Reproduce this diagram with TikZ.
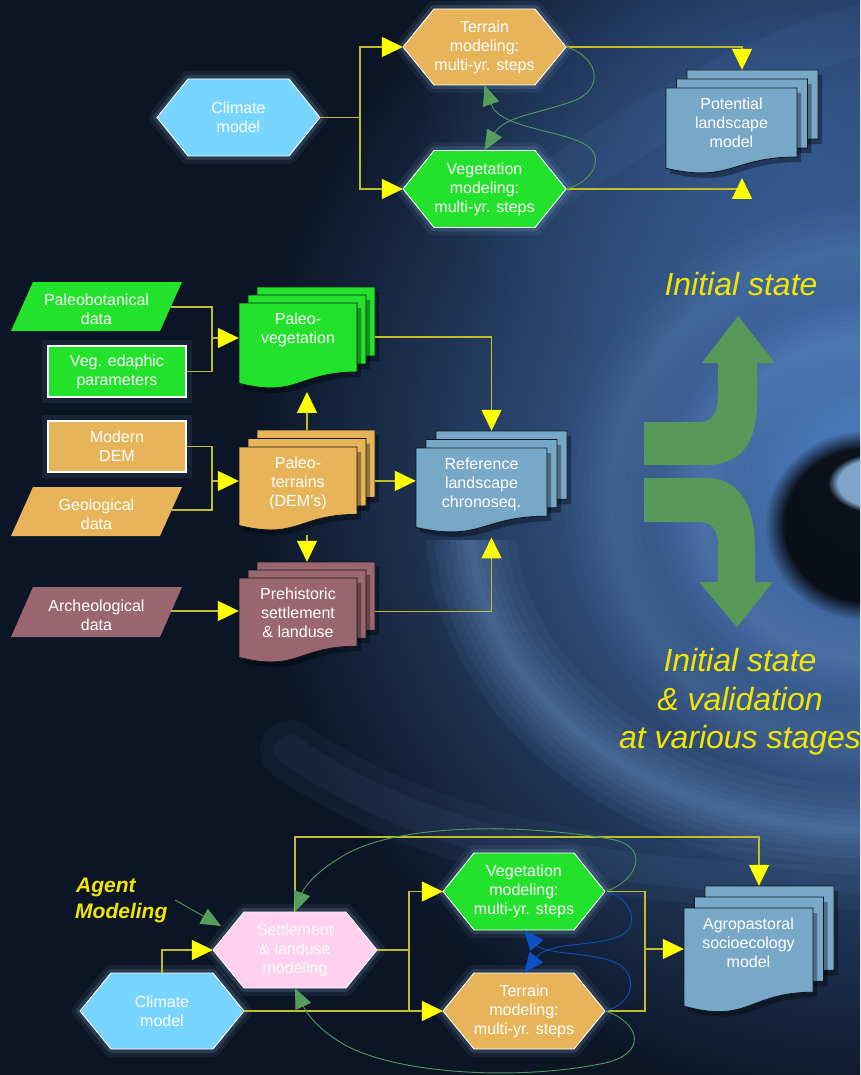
\documentclass[tikz,border=0pt]{standalone}
\usepackage{fontspec}
\setmainfont{Liberation Sans}
\usetikzlibrary{arrows.meta,fit,calc,fadings}
\tikzfading[name=softfade, inner color=transparent!0, outer color=transparent!100]

\definecolor{bgc}{HTML}{0B1526}
\definecolor{sw1}{HTML}{4F80C4}
\definecolor{sw2}{HTML}{7AA8E0}
\definecolor{sw3}{HTML}{9CCBF5}
\definecolor{swtop}{HTML}{3A62A0}
\definecolor{climB}{HTML}{77D5FF}
\definecolor{orng}{HTML}{E8B45A}
\definecolor{grn}{HTML}{22E22C}
\definecolor{pinkc}{HTML}{FFD0F0}
\definecolor{mauve}{HTML}{9A6670}
\definecolor{steel}{HTML}{78A8C8}
\definecolor{yel}{HTML}{FFFF00}
\definecolor{ylc}{HTML}{C2BC28}
\definecolor{gcc}{HTML}{4E9A5A}
\definecolor{gac}{HTML}{559E5E}
\definecolor{bcc}{HTML}{0A50B8}
\definecolor{bac}{HTML}{0C52C4}
\definecolor{bigG}{HTML}{589858}
\definecolor{ytext}{HTML}{F2E600}
\definecolor{glowc}{HTML}{A8D0F5}
\definecolor{docedge}{HTML}{101820}

\tikzset{
  yline/.style={draw=ylc, line width=1.3pt},
  yarr/.style={yline, -{Triangle[length=21pt,width=20pt,color=yel]}},
  gcurve/.style={draw=gcc, line width=0.9pt, -{Triangle[length=20pt,width=17pt,color=gac]}},
  bcurve/.style={draw=bcc, line width=0.9pt, -{Triangle[length=20pt,width=17pt,color=bac]}},
  hexshape/.style={draw=white, line width=0.9pt,
    preaction={draw=glowc, line width=16pt, opacity=0.07, line join=round},
    preaction={draw=glowc, line width=8pt, opacity=0.14, line join=round}},
  rectshape/.style={draw=white, line width=1.2pt,
    preaction={draw=glowc, line width=12pt, opacity=0.08}},
  docshape/.style={draw=docedge, line width=0.8pt,
    preaction={fill=black, fill opacity=0.35, draw=none, transform canvas={shift={(4pt,-5pt)}}}},
  ntext/.style={text=white, font=\fontsize{16}{19}\selectfont, align=center, inner sep=0pt},
  bigtext/.style={text=ytext, font=\fontsize{32}{38.5}\selectfont\itshape, align=center, inner sep=0pt},
  agenttext/.style={text=ytext, font=\fontsize{21}{26}\selectfont\bfseries\itshape, inner sep=0pt},
}

% soft ring: cx, cy, rx, ry, colour, opacity
\newcommand\softring[6]{%
  \foreach \lw in {90,72,56,42,30,18,8}{%
    \draw[line width=\lw pt, color=#5, opacity=#6] (#1,#2) ellipse [x radius=#3pt, y radius=#4pt];}}

% name, cx, cy, w, h, fill, text
\newcommand\hexnode[7]{%
  \path[hexshape, fill=#6] ({#2-#4/2},#3) -- ({#2-#4/2+31},{#3-#5/2}) -- ({#2+#4/2-31},{#3-#5/2})
     -- ({#2+#4/2},#3) -- ({#2+#4/2-31},{#3+#5/2}) -- ({#2-#4/2+31},{#3+#5/2}) -- cycle;
  \node[ntext, minimum width=#4pt, minimum height=#5pt] (#1) at (#2,#3) {#7};}

% name, xl, yt, w, h, slant, fill, text, eastY
\newcommand\paranode[9]{%
  \path[fill=#7] ({#2+#6},#3) -- ({#2+#4},#3) -- ({#2+#4-#6},{#3+#5}) -- (#2,{#3+#5}) -- cycle;
  \node[ntext] (#1) at ({#2+#4/2},{#3+#5/2+3}) {#8};
  \coordinate (#1-e) at ({#2+#4-#6*(#9-#3)/#5},#9);}

% name, x0, y0, w, H, dx, dy, fill, text
\newcommand\docnode[9]{%
  \foreach \k in {2,1,0}{%
    \path[docshape, fill=#8] ({#2+\k*#6},{#3-\k*#7}) -- ++(#4,0) -- ++(0,{0.802*#5})
      .. controls +({-0.5*#4},0) and +({0.5*#4},{0.173*#5}) .. ++({-#4},{0.132*#5}) -- cycle;}
  \coordinate (#1-nw) at (#2,{#3-2*#7});
  \coordinate (#1-se) at ({#2+#4+2*#6},{#3+0.974*#5});
  \node[fit=(#1-nw)(#1-se), inner sep=0pt] (#1) {};
  \node[ntext, anchor=north] (#1-t) at ({#2+#4/2},{#3+10}) {#9};}

\begin{document}
\begin{tikzpicture}[x=1pt,y=-1pt]
\useasboundingbox (0,0) rectangle (860,1075);
\fill[bgc] (0,0) rectangle (860,1075);
\begin{scope}
  \clip (0,0) rectangle (860,1075);
  \shade[inner color=sw1, outer color=bgc] (870,470) ellipse [x radius=620pt, y radius=640pt];
  \fill[swtop, opacity=0.6, path fading=softfade] (790,120) ellipse [x radius=380pt, y radius=280pt];
  \softring{870}{500}{260}{250}{sw2}{0.03}
  \softring{870}{500}{170}{160}{sw2}{0.04}
  \begin{scope}
    \clip (300,540) rectangle (860,1075);
    \softring{870}{520}{400}{310}{sw2}{0.07}
  \end{scope}
  \fill[color=black, opacity=0.85, path fading=circle with fuzzy edge 20 percent] (865,525) ellipse [x radius=100pt, y radius=95pt];
  \fill[color=sw3, opacity=0.8, path fading=circle with fuzzy edge 20 percent] (878,483) ellipse [x radius=50pt, y radius=30pt];
  \draw[line width=60pt, color=sw2, opacity=0.05, line cap=round] (290,750) .. controls (420,840) and (600,880) .. (860,880);
  \draw[line width=30pt, color=sw2, opacity=0.06, line cap=round] (290,750) .. controls (420,840) and (600,880) .. (860,880);
  \draw[line width=50pt, color=sw2, opacity=0.06, line cap=round] (560,180) .. controls (650,120) and (750,60) .. (860,30);
\end{scope}

% ---------- big green arrows ----------
\fill[bigG] (644,422) -- (700,422) .. controls (712,422) and (718,412) .. (718,398) -- (718,363)
  -- (702,363) -- (738,316) -- (775,363) -- (757,363) -- (757,400)
  .. controls (757,445) and (740,465) .. (705,465) -- (644,465) -- cycle;
\fill[bigG] (644,478) -- (705,478) .. controls (740,478) and (755,505) .. (755,550) -- (755,582)
  -- (773,582) -- (737,627) -- (699,582) -- (718,582) -- (718,545)
  .. controls (718,530) and (712,522) .. (700,522) -- (644,522) -- cycle;
\node[bigtext] (init1) at (741,284) {Initial state};
\node[bigtext] (init2) at (740,702) {Initial state\\\& validation\\at various stages};

% ---------- top section ----------
\hexnode{clim1}{238.5}{117.5}{163}{77}{climB}{Climate\\model}
\hexnode{ter1}{484.5}{47}{163}{76}{orng}{Terrain\\modeling:\\multi-yr. steps}
\hexnode{veg1}{484.5}{189}{163}{77}{grn}{Vegetation\\modeling:\\multi-yr. steps}
\docnode{pot}{666}{88}{131}{86}{10.5}{9}{steel}{Potential\\landscape\\model}

\coordinate (j1) at (360,117.5);
\draw[yline] (clim1.east) -- (j1);
\draw[yarr] (j1) |- (ter1.west);
\draw[yarr] (j1) |- (veg1.west);
\draw[yarr] (ter1.east) -| (pot.north);
\draw[yarr, shorten >=6pt] (veg1.east) -| (pot.south);
\draw[gcurve] (veg1.east) .. controls (592,182) and (603,160) .. (590,148)
   .. controls (570,130) and (500,130) .. (ter1.south);
\draw[gcurve] (ter1.east) .. controls (595,55) and (606,85) .. (578,99)
   .. controls (545,113) and (505,115) .. (veg1.north);

% ---------- middle section ----------
\paranode{pb}{11}{282}{171}{49}{22}{grn}{Paleobotanical\\data}{307}
\node[rectshape, fill=grn, minimum width=138pt, minimum height=51pt, ntext] (ve) at (117,371.5) {Veg. edaphic\\parameters};
\docnode{pveg}{239}{303}{118}{86}{9}{8}{grn}{Paleo-\\vegetation}
\node[rectshape, fill=orng, minimum width=138pt, minimum height=51pt, ntext] (md) at (117,446.5) {Modern\\DEM};
\paranode{geo}{11}{487}{171}{49}{22}{orng}{Geological\\data}{510}
\docnode{pter}{239}{447}{118}{84}{9}{8.5}{orng}{Paleo-\\terrains\\(DEM’s)}
\paranode{arc}{11}{587}{171}{50}{22}{mauve}{Archeological\\data}{611}
\docnode{preh}{239}{578}{118}{85}{9}{8}{mauve}{Prehistoric\\settlement\\\& landuse}
\docnode{ref}{416}{448}{131}{85}{10}{8.5}{steel}{Reference\\landscape\\chronoseq.}

\coordinate (jv) at (212,338);
\coordinate (jt) at (212,481);
\draw[yline] (pb-e) -| (jv);
\draw[yline] (ve.east) -| (jv);
\draw[yarr] (jv) -- (jv -| pveg.west);
\draw[yline] (md.east) -| (jt);
\draw[yline] (geo-e) -| (jt);
\draw[yarr] (jt) -- (jt -| pter.west);
\draw[yarr] (arc-e) -- (arc-e -| preh.west);
\draw[yarr, shorten >=5pt] (pter.north) -- (pter.north |- pveg.south);
\draw[yarr, shorten <=6pt] (pter.south) -- (pter.south |- preh.north);
\draw[yarr] (pter.east |- ref.west) -- (ref.west);
\draw[yarr] (pveg.east) -| (ref.north);
\draw[yarr, shorten >=6.5pt] (preh.east) -| (ref.south);

% ---------- bottom section ----------
\hexnode{set}{295}{950}{164}{76}{pinkc}{Settlement\\\& landuse\\modeling}
\hexnode{clim2}{162}{1011}{164}{76}{climB}{Climate\\model}
\hexnode{vegb}{524}{891.5}{162}{77}{grn}{Vegetation\\modeling:\\multi-yr. steps}
\hexnode{terb}{524}{1011}{162}{76}{orng}{Terrain\\modeling:\\multi-yr. steps}
\docnode{agro}{684}{908}{129}{105}{10.5}{11}{steel}{Agropastoral\\socioecology\\model}

\node[agenttext, anchor=west] (agent) at (76,887) {Agent};
\node[agenttext, anchor=west] (agentm) at (75,913) {Modeling};

\coordinate (js) at (409,950);
\coordinate (jr) at (645,949);
\coordinate (topy) at (500,837);
\draw[yarr] (clim2.north) |- (set.west);
\draw[yline] (set.east) -- (js);
\draw[yline] (clim2.east) -- (clim2.east -| js);
\draw[yarr] (js) |- (vegb.west);
\draw[yarr] (js) |- (terb.west);
\draw[yline] (vegb.east) -| (jr);
\draw[yline] (terb.east) -| (jr);
\draw[yarr] (jr) -- (jr -| agro.west);
\draw[yarr] (set.north) |- (topy -| agro.north) -- (agro.north);

\draw[gcurve] (vegb.east) .. controls (640,880) and (650,845) .. (610,839)
   .. controls (530,825) and (410,822) .. (350,852)
   .. controls (320,868) and (305,885) .. (set.north);
\draw[gcurve] (terb.east) .. controls (640,1022) and (650,1055) .. (600,1064)
   .. controls (520,1080) and (400,1075) .. (345,1045)
   .. controls (315,1028) and (305,1010) .. (set.south);
\draw[bcurve] (vegb.east) .. controls (628,896) and (640,920) .. (625,933)
   .. controls (605,948) and (550,940) .. (terb.north);
\draw[bcurve] (terb.east) .. controls (630,1005) and (640,980) .. (620,965)
   .. controls (600,952) and (545,955) .. (vegb.south);

\coordinate (am) at (175,900);
\coordinate (amtip) at (221,926);
\draw[gcurve] (am) -- (amtip);
\end{tikzpicture}
\end{document}
